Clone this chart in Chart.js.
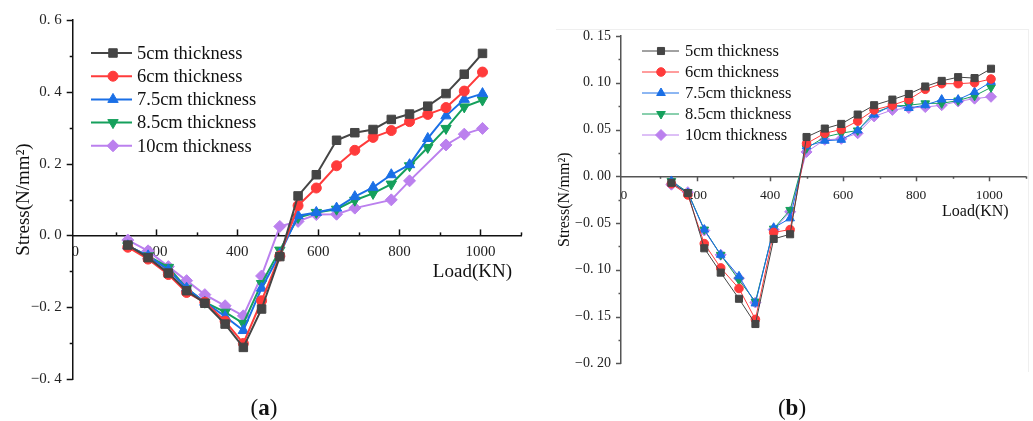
<!DOCTYPE html>
<html><head><meta charset="utf-8">
<script src="https://cdn.jsdelivr.net/npm/chart.js@4/dist/chart.umd.min.js"></script>
<style>
html,body{margin:0;padding:0;background:#fff;width:1033px;height:421px;overflow:hidden;}
#wa{position:absolute;left:0;top:0;width:530px;height:421px;}
#wb{position:absolute;left:530px;top:0;width:503px;height:421px;}
#frame{position:absolute;left:556px;top:29px;width:472px;height:342px;border-top:1px solid #efefef;border-right:1px solid #efefef;}
.cap{position:absolute;font-family:"Liberation Serif",serif;font-size:23px;line-height:22px;color:#111;transform:translateX(-50%);}
</style></head><body>
<div id="frame"></div>
<div id="wa"><canvas id="ca"></canvas></div>
<div id="wb"><canvas id="cb"></canvas></div>
<div class="cap" style="left:264px;top:397px;">(<b>a</b>)</div>
<div class="cap" style="left:792px;top:397px;">(<b>b</b>)</div>
<script>
// ---------- data ----------
const seriesNames = ['5cm thickness','6cm thickness','7.5cm thickness','8.5cm thickness','10cm thickness'];

const loadA = [130,180,230,275,320,370,415,460,505,550,595,645,690,735,780,825,870,915,960,1005];
const stressA5  = [-0.027,-0.062,-0.105,-0.154,-0.189,-0.247,-0.312,-0.205,-0.059,0.110,0.169,0.265,0.286,0.295,0.323,0.338,0.360,0.395,0.449,0.507];
const stressA6  = [-0.033,-0.066,-0.109,-0.159,-0.186,-0.239,-0.301,-0.182,-0.057,0.083,0.132,0.194,0.237,0.273,0.292,0.317,0.337,0.356,0.402,0.455];
const stressA75 = [-0.029,-0.057,-0.096,-0.147,-0.186,-0.226,-0.265,-0.147,-0.052,0.055,0.064,0.076,0.108,0.134,0.169,0.197,0.270,0.333,0.379,0.395];
const stressA85 = [-0.029,-0.057,-0.089,-0.147,-0.186,-0.214,-0.245,-0.134,-0.041,0.050,0.064,0.073,0.098,0.117,0.143,0.194,0.245,0.298,0.358,0.377];
const stressA10 = [-0.013,-0.043,-0.087,-0.126,-0.165,-0.196,-0.224,-0.113,0.025,0.039,0.058,0.059,0.076,null,0.099,0.152,null,0.252,0.282,0.298];

const loadB = [130,175,220,265,315,360,410,455,500,550,595,640,685,735,780,825,870,915,960,1005];
const stressB5  = [-0.007,-0.018,-0.077,-0.103,-0.131,-0.158,-0.067,-0.062,0.042,0.051,0.056,0.066,0.076,0.082,0.088,0.096,0.102,0.106,0.105,0.115];
const stressB6  = [-0.008,-0.020,-0.072,-0.098,-0.120,-0.153,-0.060,-0.057,0.035,0.046,0.050,0.059,0.071,0.076,0.082,0.093,0.099,0.099,0.100,0.104];
const stressB75 = [-0.005,-0.018,-0.057,-0.084,-0.107,-0.136,-0.055,-0.045,0.032,0.038,0.039,0.049,0.066,0.076,0.073,0.076,0.082,0.082,0.090,0.101];
const stressB85 = [-0.005,-0.017,-0.057,-0.084,-0.111,-0.134,-0.056,-0.036,0.030,0.042,0.046,0.049,0.068,0.075,0.076,0.078,0.078,0.081,0.086,0.095];
const stressB10 = [-0.009,-0.017,-0.058,-0.084,-0.109,-0.135,-0.057,-0.038,0.026,0.039,0.040,0.046,0.064,0.071,0.073,0.074,0.076,0.080,0.083,0.085];

const xTickValues = [0,200,400,600,800,1000];
const xTickLabels = ['0','200','400','600','800','1000'];
const yTickValuesA = [-0.4,-0.2,0,0.2,0.4,0.6];
const yTickLabelsA = ['\u22120. 4','\u22120. 2','0. 0','0. 2','0. 4','0. 6'];
const yTickValuesB = [-0.2,-0.15,-0.1,-0.05,0,0.05,0.1,0.15];
const yTickLabelsB = ['\u22120. 20','\u22120. 15','\u22120. 10','\u22120. 05','0. 00','0. 05','0. 10','0. 15'];

// ---------- styles ----------
const SERIF = '"Liberation Serif","Times New Roman",serif';
const colors = ['#454545','#ff3b3b','#1a6fe6','#15a05c','#bb80ee'];
const pStyles = ['rect','circle','triangle','triangle','rectRot'];
const pRot = [0,0,0,180,0];

function pts(xs, ys){ return xs.map((x,i)=>({x:x, y:ys[i]})); }

function drawMarker(ctx, style, rot, r, x, y, color){
  if (Chart.helpers && Chart.helpers.drawPoint){
    ctx.fillStyle = color; ctx.strokeStyle = color; ctx.lineWidth = 1;
    Chart.helpers.drawPoint(ctx, {pointStyle: style, radius: r, rotation: rot, borderWidth: 1}, x, y);
  }
}

const decoPlugin = {
  id: 'deco',
  beforeDatasetsDraw(chart, args, o){
    const ctx = chart.ctx, xs = chart.scales.x, ys = chart.scales.y, ca = chart.chartArea;
    ctx.save();
    ctx.strokeStyle = o.axisColor; ctx.lineWidth = o.tickWidth;
    // y ticks (outward to the left)
    for (let v = o.yMin; v <= o.yMax + 1e-9; v += o.yMinorStep){
      const major = o.yMajor.some(m => Math.abs(m - v) < 1e-6);
      const py = Math.round(ys.getPixelForValue(v)) + 0.5;
      ctx.beginPath(); ctx.moveTo(ca.left, py); ctx.lineTo(ca.left - (major ? o.majorLen : o.minorLen), py); ctx.stroke();
    }
    // x ticks
    const y0 = ys.getPixelForValue(0);
    for (let v = 100; v <= 1100; v += 100){
      const major = xTickValues.indexOf(v) >= 0;
      const px = Math.round(xs.getPixelForValue(v)) + 0.5;
      const len = (major ? o.majorLen : o.minorLen) * o.xTickDir;
      ctx.beginPath(); ctx.moveTo(px, y0); ctx.lineTo(px, y0 + len); ctx.stroke();
    }
    ctx.restore();
  },
  afterDraw(chart, args, o){
    const ctx = chart.ctx, xs = chart.scales.x, ys = chart.scales.y, ca = chart.chartArea;
    ctx.save();
    // x title
    ctx.font = o.xTitleSize + 'px ' + SERIF; ctx.fillStyle = '#111';
    ctx.textAlign = 'right'; ctx.textBaseline = 'middle';
    ctx.fillText('Load(KN)', ca.right - o.xTitleRight, ys.getPixelForValue(0) + o.xTitleDy);
    // legend
    ctx.font = o.legSize + 'px ' + SERIF; ctx.textAlign = 'left';
    chart.data.datasets.forEach((ds, i) => {
      const y = o.legTop + i * o.legRow;
      ctx.strokeStyle = ds.borderColor; ctx.lineWidth = ds.borderWidth;
      ctx.beginPath(); ctx.moveTo(o.legX0, y); ctx.lineTo(o.legX1, y); ctx.stroke();
      drawMarker(ctx, ds.pointStyle, ds.pointRotation, ds.pointRadius, (o.legX0 + o.legX1) / 2 + o.legMk, y, ds.borderColor);
      ctx.fillStyle = '#111';
      ctx.fillText(ds.label, o.legX1 + o.legGap, y + 1);
    });
    ctx.restore();
  }
};

function makeChart(id, xs, ysList, p){
  const datasets = ysList.map((ys, i) => ({
    label: seriesNames[i],
    data: pts(xs, ys),
    borderColor: colors[i], backgroundColor: colors[i],
    borderWidth: p.lineW,
    pointStyle: pStyles[i], pointRotation: pRot[i],
    pointRadius: p.radii[i], pointHoverRadius: p.radii[i],
    pointBorderWidth: 1,
    spanGaps: true, tension: 0
  }));
  return new Chart(document.getElementById(id), {
    type: 'line',
    data: { datasets },
    plugins: [decoPlugin],
    options: {
      responsive: true, maintainAspectRatio: false, devicePixelRatio: 1, animation: false,
      layout: { padding: p.pad },
      plugins: {
        legend: {display: false}, tooltip: {enabled: false},
        deco: p.deco
      },
      scales: {
        x: {
          type: 'linear', min: p.xMin, max: 1100,
          position: {y: 0},
          afterBuildTicks: s => { s.ticks = xTickValues.map(v => ({value: v})); },
          ticks: { callback: (v) => { const k = xTickValues.indexOf(v); return k >= 0 ? xTickLabels[k] : ''; },
                   font: {family: SERIF, size: p.xFont}, color: '#222', padding: p.xPad, maxRotation: 0, autoSkip: false },
          grid: {display: false, drawTicks: false},
          border: {display: true, color: p.axisColor, width: 1.5}
        },
        y: {
          type: 'linear', min: p.yMin, max: p.yMax, position: 'left',
          afterBuildTicks: s => { s.ticks = p.yVals.map(v => ({value: v})); },
          afterFit: s => { s.width = p.yW; },
          ticks: { callback: (v) => { const k = p.yVals.findIndex(m => Math.abs(m - v) < 1e-9); return k >= 0 ? p.yLabels[k] : ''; },
                   font: {family: SERIF, size: p.yFont}, color: '#222', padding: p.yPad, autoSkip: false },
          grid: {display: false, drawTicks: false},
          border: {display: true, color: p.axisColor, width: 1.5},
          title: {display: true, text: 'Stress(N/mm\u00B2)', font: {family: SERIF, size: p.yTitleSize}, color: '#111', padding: {top: p.yTitlePad, bottom: 0}}
        }
      }
    }
  });
}

makeChart('ca', loadA, [stressA5, stressA6, stressA75, stressA85, stressA10], {
  lineW: 2, radii: [6, 5, 6, 6, 6],
  pad: {left: 0, top: 18, right: 9, bottom: 42},
  xMin: -6, yMin: -0.4, yMax: 0.6, yVals: yTickValuesA, yLabels: yTickLabelsA,
  yW: 72.7, xFont: 15, xPad: 8, yFont: 15, yPad: 11, yTitleSize: 19, yTitlePad: 13,
  axisColor: '#111',
  deco: { axisColor: '#111', tickWidth: 1.5, yMin: -0.4, yMax: 0.6, yMinorStep: 0.1, yMajor: yTickValuesA,
          majorLen: 6, minorLen: 3, xTickDir: -1,
          xTitleSize: 19, xTitleRight: 9, xTitleDy: 37,
          legSize: 18.5, legTop: 53, legRow: 23.2, legX0: 91, legX1: 132, legMk: 1.5, legGap: 5 }
});

makeChart('cb', loadB, [stressB5, stressB6, stressB75, stressB85, stressB10], {
  lineW: 1, radii: [5, 4.3, 5, 5, 5.5],
  pad: {left: 0, top: 36, right: 7.3, bottom: 57.7},
  xMin: -8, yMin: -0.2, yMax: 0.15, yVals: yTickValuesB, yLabels: yTickLabelsB,
  yW: 91, xFont: 13.5, xPad: 11, yFont: 14, yPad: 10, yTitleSize: 16, yTitlePad: 25,
  axisColor: '#555',
  deco: { axisColor: '#555', tickWidth: 1.5, yMin: -0.2, yMax: 0.15, yMinorStep: 0.025, yMajor: yTickValuesB,
          majorLen: 5, minorLen: 2.5, xTickDir: 1,
          xTitleSize: 16, xTitleRight: 17, xTitleDy: 36,
          legSize: 16.5, legTop: 51, legRow: 21, legX0: 112, legX1: 149, legMk: 0.5, legGap: 6 }
});
</script>
</body></html>
